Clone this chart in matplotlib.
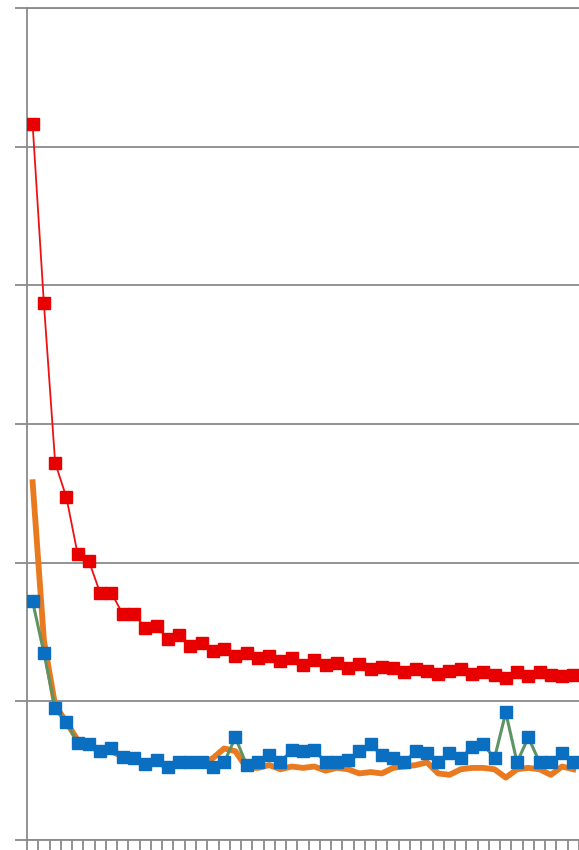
import numpy as np
import matplotlib
matplotlib.use("Agg")
import matplotlib.pyplot as plt

# values (y axis 0..60, gridlines every 10)
red_vals = [51.6, 38.7, 27.2, 24.7, 20.6, 20.1, 17.8, 17.8, 16.3, 16.3,
            15.3, 15.4, 14.5, 14.8, 14.0, 14.2, 13.6, 13.8, 13.3, 13.5,
            13.1, 13.3, 12.9, 13.1, 12.6, 13.0, 12.6, 12.8, 12.4, 12.7,
            12.3, 12.5, 12.4, 12.1, 12.3, 12.2, 12.0, 12.2, 12.3, 12.0,
            12.1, 11.9, 11.7, 12.1, 11.8, 12.1, 11.9, 11.8, 11.9]
orange_vals = [25.8, 14.4, 9.7, 8.5, 7.2, 6.8, 6.4, 6.4, 6.0, 5.8,
               5.4, 5.6, 5.3, 5.5, 5.4, 5.5, 5.9, 6.6, 6.4, 5.2,
               5.2, 5.4, 5.1, 5.3, 5.2, 5.3, 5.0, 5.2, 5.1, 4.8,
               4.9, 4.8, 5.2, 5.3, 5.4, 5.6, 4.8, 4.7, 5.1, 5.2,
               5.2, 5.1, 4.5, 5.1, 5.2, 5.1, 4.7, 5.3, 5.1]
blue_vals = [17.2, 13.5, 9.5, 8.5, 7.0, 6.9, 6.4, 6.6, 6.0, 5.9,
             5.5, 5.8, 5.3, 5.6, 5.6, 5.6, 5.3, 5.6, 7.4, 5.4,
             5.6, 6.1, 5.6, 6.5, 6.4, 6.5, 5.6, 5.6, 5.8, 6.4,
             6.9, 6.1, 5.9, 5.6, 6.4, 6.3, 5.6, 6.3, 5.9, 6.7,
             6.9, 5.9, 9.2, 5.6, 7.4, 5.6, 5.6, 6.3, 5.6]
y_ticks = [0, 10, 20, 30, 40, 50, 60]

x = np.arange(len(red_vals))
grey = "#8a8a8a"

fig = plt.figure(figsize=(5.79, 8.5), dpi=100)
ax = fig.add_axes([27/579, 10/850, 552/579, 832/850])

ax.plot(x, orange_vals, color="#E97A1F", linewidth=4.2, solid_joinstyle="round",
        zorder=3)
ax.plot(x, blue_vals, color="#5E9363", linewidth=2.2, marker="s",
        markersize=8.2, markerfacecolor="#0B6FC1", markeredgecolor="#0B6FC1",
        zorder=4)
ax.plot(x, red_vals, color="#F01010", linewidth=1.3, marker="s",
        markersize=8.2, markerfacecolor="#E80000", markeredgecolor="#E80000",
        zorder=5)

ax.set_ylim(0, 60)
ax.set_xlim(-0.5, -0.5 + 552/11.3)
ax.set_yticks(y_ticks)
ax.set_xticks(np.arange(len(red_vals) + 1) - 0.5)
ax.set_yticklabels([])
ax.set_xticklabels([])
ax.yaxis.grid(True, color=grey, linewidth=1.3)
ax.set_axisbelow(True)

for side in ["left", "bottom", "top"]:
    ax.spines[side].set_color(grey)
    ax.spines[side].set_linewidth(1.3)
ax.spines["right"].set_visible(False)
ax.tick_params(axis="y", direction="out", length=8.5, width=1.3, color=grey)
ax.tick_params(axis="x", direction="out", length=8, width=1.3, color=grey)

fig.savefig("out.png", dpi=100, facecolor="white")
